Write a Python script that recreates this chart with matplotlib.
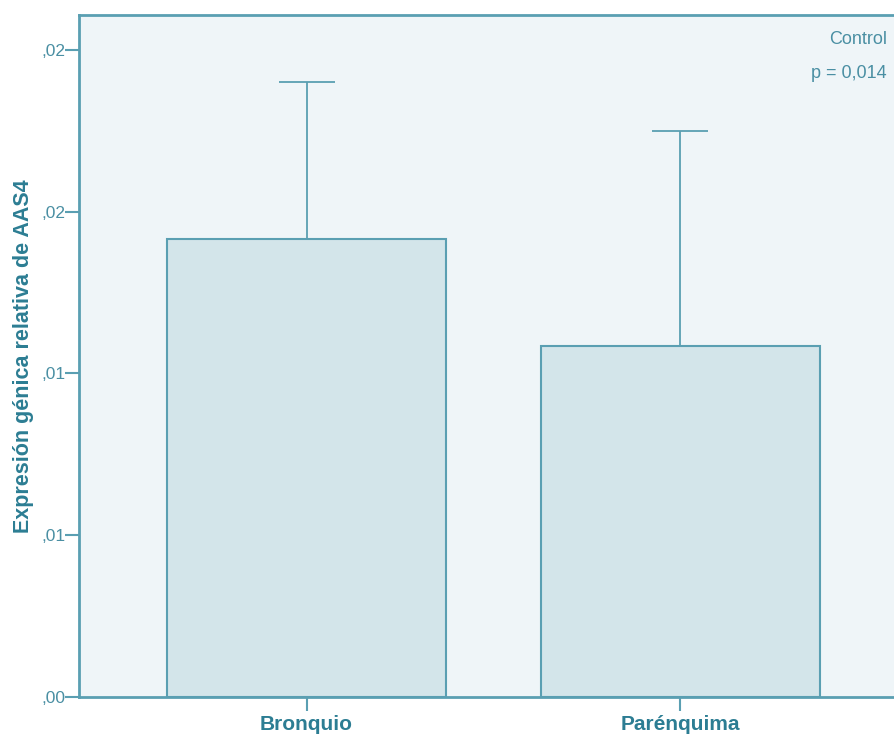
import matplotlib
matplotlib.use("Agg")
import matplotlib.pyplot as plt

plt.rcParams["font.family"] = ["Liberation Sans", "DejaVu Sans"]

categories = ["Bronquio", "Parénquima"]
means = [0.01416, 0.01085]
upper = [0.01901, 0.01750]
ytick_values = [0.0, 0.005, 0.01, 0.015, 0.02]
ytick_labels = [",00", ",01", ",01", ",02", ",02"]

LINE = "#5a9fb2"
FILL = "#d3e5ea"
BACK = "#eff5f8"
TEXT = "#4a8fa3"
LABEL = "#2c7d93"

W, H = 895, 735
fig = plt.figure(figsize=(W / 100, H / 100), dpi=100)
ax = fig.add_axes([79 / W, 38 / H, 1 - 79 / W + 0.002, 682 / H])
ax.set_facecolor(BACK)

x = list(range(len(categories)))
ax.bar(x, means, width=0.748, color=FILL, edgecolor=LINE, linewidth=1.5, zorder=2)
errs = [u - m for u, m in zip(upper, means)]
ax.errorbar(x, means, yerr=[[0, 0], errs], fmt="none", ecolor=LINE,
            elinewidth=1.3, capsize=20, capthick=1.3, zorder=1)

ax.set_xlim(-0.6086, 1.579)
ax.set_ylim(0, 0.02108)
ax.set_yticks(ytick_values)
ax.set_yticklabels(ytick_labels)
ax.set_xticks(x)
ax.set_xticklabels(categories, fontweight="bold", fontsize=15)

for s in ["left", "bottom", "top"]:
    ax.spines[s].set_color(LINE)
    ax.spines[s].set_linewidth(2)
ax.spines["right"].set_visible(False)

ax.tick_params(axis="y", colors=LINE, length=10, width=1.5, labelsize=12.5,
               labelcolor=TEXT, pad=0)
ax.tick_params(axis="x", colors=LINE, length=10, width=1.5, pad=3,
               labelcolor=LABEL)

ax.set_ylabel("Expresión génica relativa de AAS4", fontsize=15.5,
              fontweight="bold", color=LABEL, labelpad=5)

fig.text(887 / W, 1 - 40 / H, "Control", ha="right", va="center",
         fontsize=13, color=TEXT)
fig.text(887 / W, 1 - 73 / H, "p = 0,014", ha="right", va="center",
         fontsize=13, color=TEXT)

fig.savefig("out.png", dpi=100)
